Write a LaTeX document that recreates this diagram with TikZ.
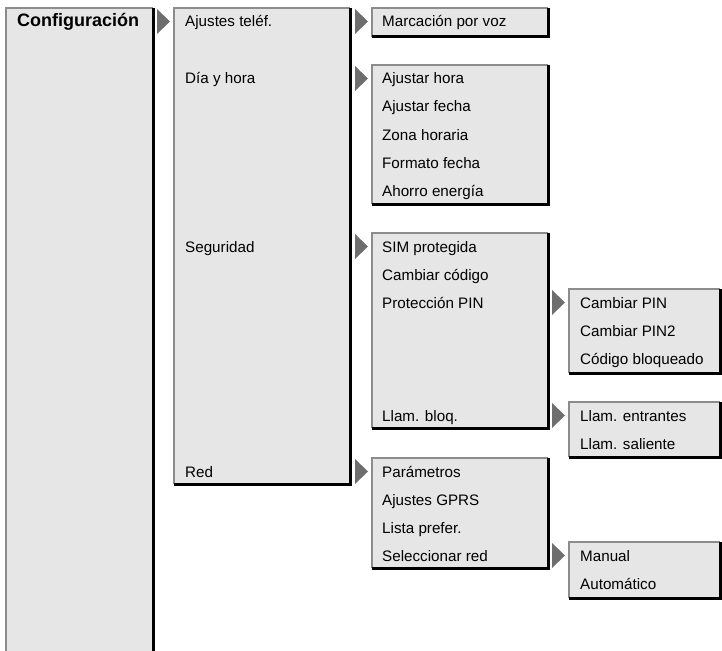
\documentclass[tikz,border=0pt]{standalone}
\usepackage{fontspec}
\setmainfont{Liberation Sans}
\definecolor{boxfill}{HTML}{E6E6E6}
\definecolor{edgegray}{HTML}{8C8C8C}
\definecolor{tipgray}{HTML}{6E6E6E}
\tikzset{
  item/.style={anchor=base west, inner sep=0pt, font=\fontsize{15.2}{18}\selectfont},
  head/.style={item, font=\fontsize{18}{20}\selectfont\bfseries},
  tip/.style={fill=tipgray},
}
% menu panel: x1 y1 x2 y2
\newcommand{\menubox}[4]{%
  \fill[boxfill] (#1,#2) rectangle (#3,#4);
  \draw[edgegray, line width=1.5pt] (#1,#4) -- (#1,#2) -- (#3,#2);
  \draw[black, line width=3pt] (#3,#2) -- (#3,#4) -- (#1,#4);}
% submenu marker: x top
\newcommand{\menutip}[2]{\fill[tip] (#1,#2+1) -- ++(13,12.5) -- ++(-13,12.5) -- cycle;}

\begin{document}
\begin{tikzpicture}[x=1pt, y=-1pt]
    \useasboundingbox (0,0) rectangle (722,650);
    % level 1
    \fill[boxfill] (6,8) rectangle (153,652);
    \draw[edgegray, line width=1.5pt] (6,652) -- (6,8) -- (153,8);
    \draw[black, line width=3pt] (153,8) -- (153,652);
    % level 2
    \menubox{174}{8}{350}{484}
    % level 3
    \menubox{372}{8}{548}{37}
    \menubox{372}{65}{548}{204}
    \menubox{372}{233}{548}{428}
    \menubox{372}{458}{548}{568}
    % level 4
    \menubox{569}{289}{720}{373}
    \menubox{569}{402}{720}{457}
    \menubox{569}{542}{720}{598}

    \menutip{157}{8}
    \menutip{355}{8}
    \menutip{355}{65}
    \menutip{355}{233}
    \menutip{355}{458}
    \menutip{552}{289}
    \menutip{552}{402}
    \menutip{552}{542}

    \node[head] (conf) at (17,27) {Configuración};

    \node[item] (tel) at (185,27) {Ajustes teléf.};
    \node[item] (dia) at (185,84) {Día y hora};
    \node[item] (seg) at (185,252) {Seguridad};
    \node[item] (red) at (185,477) {Red};

    \node[item] (voz) at (382,27) {Marcación por voz};
    \node[item] (hora) at (382,84) {Ajustar hora};
    \node[item] (fecha) at (382,112) {Ajustar fecha};
    \node[item] (zona) at (382,140) {Zona horaria};
    \node[item] (formato) at (382,168) {Formato fecha};
    \node[item] (ahorro) at (382,196) {Ahorro energía};
    \node[item] (sim) at (382,252) {SIM protegida};
    \node[item] (codigo) at (382,280) {Cambiar código};
    \node[item] (ppin) at (382,308) {Protección PIN};
    \node[item] (bloq) at (382,421) {Llam. bloq.};
    \node[item] (param) at (382,477) {Parámetros};
    \node[item] (gprs) at (382,505) {Ajustes GPRS};
    \node[item] (lista) at (382,533) {Lista prefer.};
    \node[item] (selred) at (382,561) {Seleccionar red};

    \node[item] (pin) at (580,308) {Cambiar PIN};
    \node[item] (pin2) at (580,336) {Cambiar PIN2};
    \node[item] (cbloq) at (580,364) {Código bloqueado};
    \node[item] (entr) at (580,421) {Llam. entrantes};
    \node[item] (sal) at (580,449) {Llam. saliente};
    \node[item] (manual) at (580,561) {Manual};
    \node[item] (auto) at (580,589) {Automático};
\end{tikzpicture}
\end{document}
